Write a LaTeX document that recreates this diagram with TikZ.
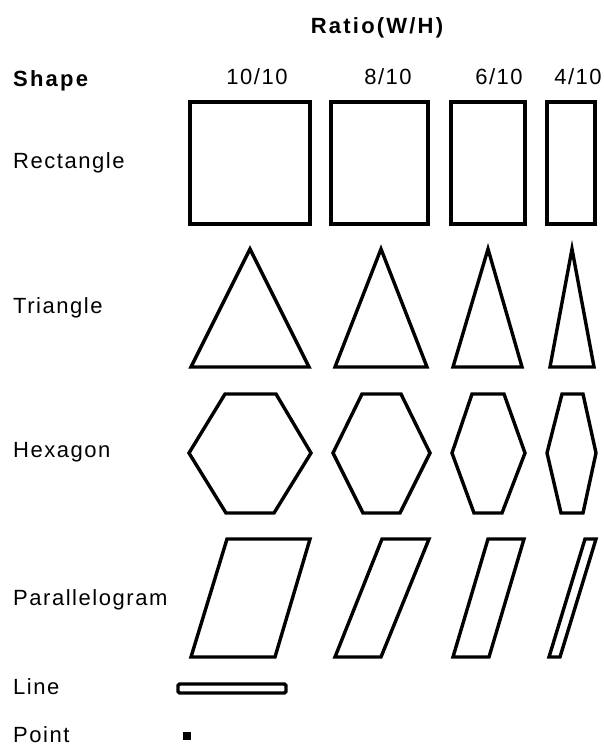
\documentclass[tikz,border=0pt]{standalone}
\usepackage{fontspec}
\setmainfont{Liberation Sans}[LetterSpace=7]
\newfontfamily\headfont{Liberation Sans}[LetterSpace=10]
\usepackage{tikz}

\begin{document}
\begin{tikzpicture}[x=1pt, y=-1pt,
    outline/.style={line width=3.4pt, line join=miter},
    label/.style={inner sep=0pt, font=\fontsize{22}{26}\selectfont},
    rowlabel/.style={label, anchor=base west},
    collabel/.style={label, anchor=base},
    headlabel/.style={inner sep=0pt, font=\fontsize{22}{26}\selectfont\headfont\bfseries}]

    \useasboundingbox (0,0) rectangle (604,747);

    % Header
    \node[headlabel, anchor=base] (ratio) at (377,33) {Ratio(W/H)};
    \node[headlabel, anchor=base west] (shape) at (13,86) {Shape};
    \node[collabel] (r10) at (257,84) {10/10};
    \node[collabel] (r8) at (388,84) {8/10};
    \node[collabel] (r6) at (499,84) {6/10};
    \node[collabel] (r4) at (578,84) {4/10};

    % Row labels
    \node[rowlabel] (rectangle) at (13,168) {Rectangle};
    \node[rowlabel] (triangle) at (13,313) {Triangle};
    \node[rowlabel] (hexagon) at (13,457) {Hexagon};
    \node[rowlabel] (parallelogram) at (13,605) {Parallelogram};
    \node[rowlabel] (line) at (13,694) {Line};
    \node[rowlabel] (point) at (13,742) {Point};

    % Rectangles
    \draw[outline, line width=4pt] (190,102) rectangle (310,224);
    \draw[outline, line width=4pt] (331,102) rectangle (428,224);
    \draw[outline, line width=4pt] (451,102) rectangle (525,224);
    \draw[outline, line width=4pt] (547,102) rectangle (595,224);

    % Triangles
    \draw[outline] (250,249) -- (309,367) -- (191,367) -- cycle;
    \draw[outline] (381,249) -- (427,367) -- (335,367) -- cycle;
    \draw[outline] (488,249) -- (522,367) -- (453,367) -- cycle;
    \draw[outline] (572,249) -- (594,367) -- (550,367) -- cycle;

    % Hexagons
    \draw[outline] (189,453) -- (225,394) -- (276,394) -- (311,453) -- (274,513) -- (226,513) -- cycle;
    \draw[outline] (333,453) -- (362,394) -- (401,394) -- (430,453) -- (400,513) -- (363,513) -- cycle;
    \draw[outline] (452,453) -- (472,394) -- (504,394) -- (525,453) -- (502,513) -- (474,513) -- cycle;
    \draw[outline] (547,453) -- (562,394) -- (583,394) -- (596,453) -- (583,513) -- (561,513) -- cycle;

    % Parallelograms
    \draw[outline] (227,539) -- (310,539) -- (275,657) -- (191,657) -- cycle;
    \draw[outline] (382,539) -- (429,539) -- (381,657) -- (335,657) -- cycle;
    \draw[outline] (488,539) -- (524,539) -- (489,657) -- (453,657) -- cycle;
    \draw[outline] (585,539) -- (596,539) -- (560,657) -- (549,657) -- cycle;

    % Line and point
    \draw[outline, rounded corners=1.5pt] (178,684) rectangle (286,693);
    \fill (183,732) rectangle (191,740);

\end{tikzpicture}
\end{document}
